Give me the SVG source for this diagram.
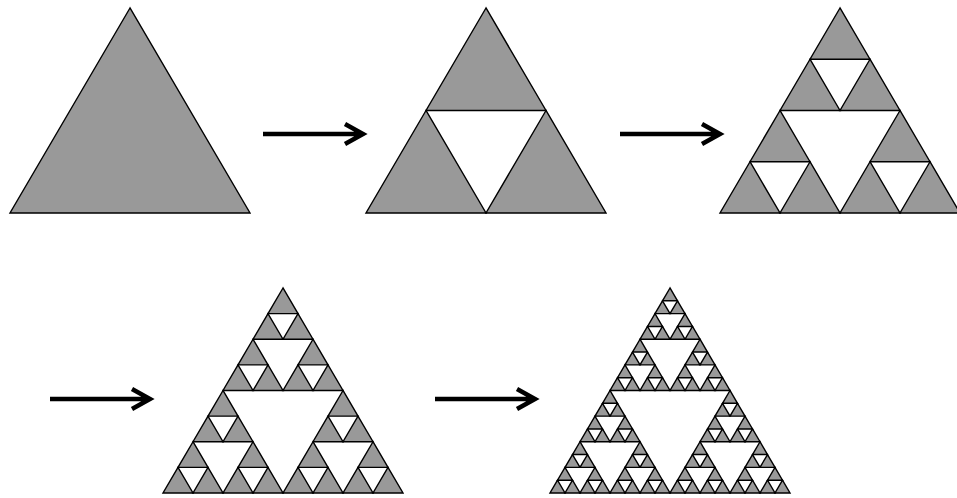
<svg xmlns="http://www.w3.org/2000/svg" xmlns:xlink="http://www.w3.org/1999/xlink" width="957" height="498" viewBox="0 0 957 498">
<style>
.tri{fill:#999999;stroke:#000;stroke-width:1.4;stroke-linejoin:miter;vector-effect:non-scaling-stroke}
.arr{fill:none;stroke:#000;stroke-width:4.5;stroke-linejoin:miter;stroke-linecap:butt}
</style>
<defs>
<polygon id="s0" class="tri" points="120,0 0,205 240,205"/>
<g id="s1"><use href="#s0" transform="translate(60,0) scale(.5)"/><use href="#s0" transform="translate(0,102.5) scale(.5)"/><use href="#s0" transform="translate(120,102.5) scale(.5)"/></g>
<g id="s2"><use href="#s1" transform="translate(60,0) scale(.5)"/><use href="#s1" transform="translate(0,102.5) scale(.5)"/><use href="#s1" transform="translate(120,102.5) scale(.5)"/></g>
<g id="s3"><use href="#s2" transform="translate(60,0) scale(.5)"/><use href="#s2" transform="translate(0,102.5) scale(.5)"/><use href="#s2" transform="translate(120,102.5) scale(.5)"/></g>
<g id="s4"><use href="#s3" transform="translate(60,0) scale(.5)"/><use href="#s3" transform="translate(0,102.5) scale(.5)"/><use href="#s3" transform="translate(120,102.5) scale(.5)"/></g>
</defs>
<rect width="957" height="498" fill="#fff"/>
<g id="stage0" transform="translate(10,8)"><use href="#s0"/></g>
<g id="stage1" transform="translate(366,8)"><use href="#s1"/></g>
<g id="stage2" transform="translate(720,8)"><use href="#s2"/></g>
<g id="stage3" transform="translate(163,288)"><use href="#s3"/></g>
<g id="stage4" transform="translate(550,288)"><use href="#s4"/></g>
<g id="connectors">
<path class="arr" d="M263,134 H360 M345,124 L363,134 L345,144"/>
<path class="arr" d="M620,134 H717 M702,124 L720,134 L702,144"/>
<path class="arr" d="M50,399 H147 M132,389 L150,399 L132,409"/>
<path class="arr" d="M435,399 H532 M517,389 L535,399 L517,409"/>
</g>
</svg>
